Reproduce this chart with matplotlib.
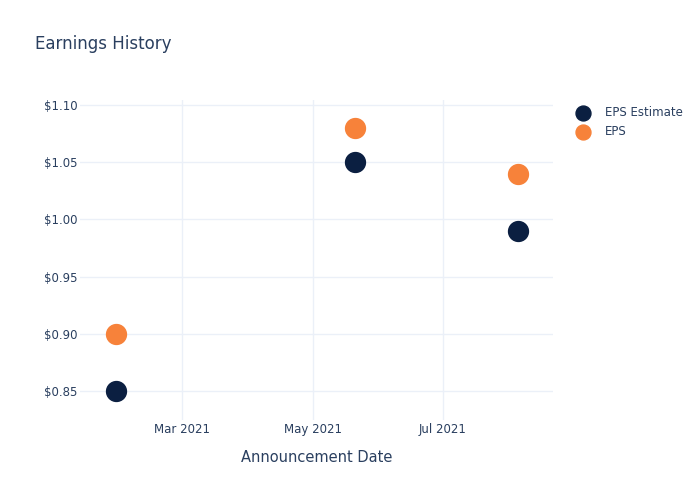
import numpy as np
import pandas as pd
import matplotlib.pyplot as plt
import matplotlib.dates as mdates
from matplotlib.ticker import FuncFormatter

# data
dates = pd.to_datetime(["2021-01-29", "2021-05-21", "2021-08-05"])
eps_estimate = [0.85, 1.05, 0.99]
eps_actual = [0.90, 1.08, 1.04]

text_col = "#2a3f5f"
grid_col = "#ebf0f8"
navy = "#0b1f41"
orange = "#f7823a"

plt.rcParams["font.family"] = ["DejaVu Sans"]

fig = plt.figure(figsize=(7, 5), dpi=100)
ax = fig.add_axes([80 / 700, 80 / 500, 473 / 700, 320 / 500])

ax.scatter(dates, eps_estimate, s=205, color=navy, label="EPS Estimate", zorder=3)
ax.scatter(dates, eps_actual, s=205, color=orange, label="EPS", zorder=3)

ax.set_xlim(pd.Timestamp("2021-01-12 07:00"), pd.Timestamp("2021-08-21 10:00"))
ax.set_ylim(0.8247, 1.1044)

ax.xaxis.set_major_locator(mdates.MonthLocator(bymonth=[3, 5, 7]))
ax.xaxis.set_major_formatter(mdates.DateFormatter("%b %Y"))
ax.set_yticks([0.85, 0.90, 0.95, 1.00, 1.05, 1.10])
ax.yaxis.set_major_formatter(FuncFormatter(lambda v, p: f"${v:.2f}"))

ax.grid(True, color=grid_col, linewidth=1)
ax.set_axisbelow(True)
for sp in ax.spines.values():
    sp.set_visible(False)
ax.tick_params(length=0, colors=text_col, labelsize=8.5)
ax.tick_params(axis="y", pad=2)
ax.tick_params(axis="x", pad=2)

ax.set_xlabel("Announcement Date", color=text_col, fontsize=10.5, labelpad=10)
fig.text(35 / 700, 1 - 44 / 500, "Earnings History", color=text_col,
         fontsize=12, va="center", ha="left")

leg = ax.legend(loc="upper left", bbox_to_anchor=(1.015, 1.015), frameon=False,
                fontsize=8.5, labelcolor=text_col, handletextpad=0.9,
                labelspacing=0.5, markerscale=0.75)

fig.savefig("out.png", dpi=100)
